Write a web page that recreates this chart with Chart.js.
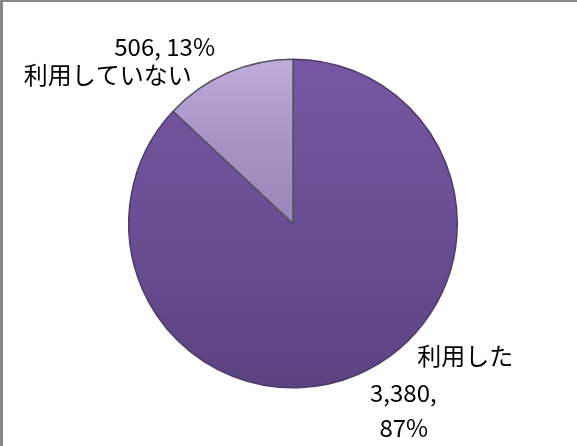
<!DOCTYPE html>
<html>
<head>
<meta charset="utf-8">
<script src="https://cdn.jsdelivr.net/npm/chart.js@4.4.0/dist/chart.umd.min.js"></script>
<style>
  html, body { margin: 0; padding: 0; background: #fff; }
  #wrap {
    position: relative;
    width: 577px;
    height: 446px;
    box-sizing: border-box;
    border-left: 3px solid #888;
    border-top: 2px solid #888;
  }
  canvas { display: block; }
</style>
</head>
<body>
<div id="wrap"><canvas id="pieChart" width="574" height="444"></canvas></div>
<script>
// データ
const categories = ["利用した", "利用していない"];
const counts = [3380, 506];
const percents = [87, 13];

// ラベルの位置 (スライスの外周中点からのずれ、ベースライン基準)
const labelLayout = [
    [
        { text: categories[0], dx: 107, dy: -9.5 },
        { text: counts[0].toLocaleString("en-US") + ",", dx: 45, dy: 27.5 },
        { text: percents[0] + "%", dx: 45.5, dy: 62.5 }
    ],
    [
        { text: counts[1].toLocaleString("en-US") + ", " + percents[1] + "%", dx: -63, dy: -16.5 },
        { text: categories[1], dx: -120, dy: 11.5 }
    ]
];

function sliceGradient(ctx, index) {
    const area = ctx.chart.chartArea;
    if (!area) return index === 0 ? "#6b4f93" : "#a28fbf";
    const g = ctx.chart.ctx.createLinearGradient(0, area.top, 0, area.bottom);
    if (index === 0) {
        g.addColorStop(0, "#7757a3");
        g.addColorStop(0.5, "#6a4e93");
        g.addColorStop(1, "#5b4281");
    } else {
        g.addColorStop(0, "#c0addb");
        g.addColorStop(0.25, "#a893c5");
        g.addColorStop(0.5, "#9a86b6");
        g.addColorStop(1, "#8c78a8");
    }
    return g;
}

const labelPlugin = {
    id: "sliceLabels",
    afterDraw(chart) {
        const ctx = chart.ctx;
        const meta = chart.getDatasetMeta(0);
        ctx.save();
        ctx.fillStyle = "#000";
        ctx.font = "24px 'Noto Sans CJK JP', 'Noto Sans', sans-serif";
        ctx.textAlign = "center";
        ctx.textBaseline = "alphabetic";
        meta.data.forEach((arc, i) => {
            const p = arc.getProps(["x", "y", "startAngle", "endAngle", "outerRadius"], true);
            const mid = (p.startAngle + p.endAngle) / 2;
            const ex = p.x + Math.cos(mid) * p.outerRadius;
            const ey = p.y + Math.sin(mid) * p.outerRadius;
            labelLayout[i].forEach(line => {
                ctx.fillText(line.text, ex + line.dx, ey + line.dy);
            });
        });
        ctx.restore();
    }
};

new Chart(document.getElementById("pieChart"), {
    type: "pie",
    data: {
        labels: categories,
        datasets: [{
            data: counts,
            backgroundColor: ctx => sliceGradient(ctx, ctx.dataIndex),
            borderColor: ["#4d3a6a", "#55525e"],
            borderWidth: 1.5
        }]
    },
    options: {
        responsive: false,
        animation: false,
        rotation: 0,
        layout: { padding: { left: 125, right: 119, top: 56, bottom: 57 } },
        plugins: {
            legend: { display: false },
            tooltip: { enabled: false }
        }
    },
    plugins: [labelPlugin]
});
</script>
</body>
</html>
